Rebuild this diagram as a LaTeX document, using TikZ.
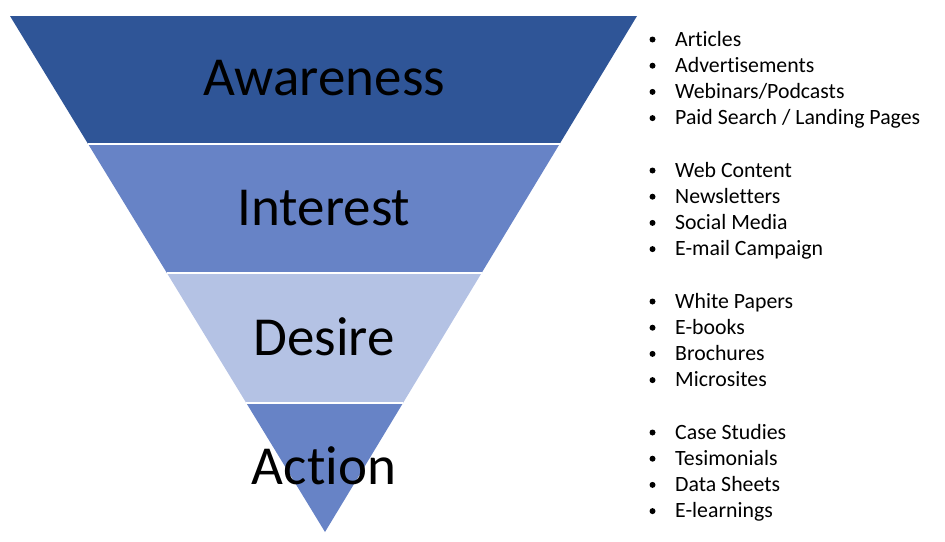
\documentclass[tikz,border=0pt]{standalone}
\usepackage{fontspec}
\setmainfont{Carlito}[Ligatures=CommonOff]
\definecolor{bandA}{HTML}{2F5597}
\definecolor{bandB}{HTML}{6783C6}
\definecolor{bandC}{HTML}{B4C2E4}
\begin{document}
\begin{tikzpicture}[x=1pt,y=-1pt,
  stage/.style={font=\fontsize{55}{60}\selectfont,anchor=base,inner sep=0pt},
  item/.style={font=\fontsize{21.8}{24}\selectfont,anchor=base west,inner sep=0pt},
  bullet/.style={circle,fill=black,inner sep=0pt,minimum size=6pt}]
\useasboundingbox (0,0) rectangle (945,541);
% funnel bands
\fill[bandA] (10,16) -- (637,16) -- (559.6,144) -- (88.1,144) -- cycle;
\fill[bandB] (88.1,144) -- (559.6,144) -- (481.6,273) -- (166.9,273) -- cycle;
\fill[bandC] (166.9,273) -- (481.6,273) -- (403,403) -- (246.3,403) -- cycle;
\fill[bandB] (246.3,403) -- (403,403) -- (325,532) -- cycle;
\draw[white,line width=1.6pt] (88.1,144) -- (559.6,144);
\draw[white,line width=1.6pt] (166.9,273) -- (481.6,273);
\draw[white,line width=1.6pt] (246.3,403) -- (403,403);
% stage labels
\node[stage] (aw) at (324,95.5) {Awareness};
\node[stage] (in) at (324,225) {Interest};
\node[stage] (de) at (324,355.5) {Desire};
\node[stage] (ac) at (324,484.5) {Action};
% lists
\foreach \k/\t [count=\i] in {0/Articles,1/Advertisements,2/{Webinars/Podcasts},3/{Paid Search / Landing Pages},
  5/Web Content,6/Newsletters,7/Social Media,8/E-mail Campaign,
  10/White Papers,11/E-books,12/Brochures,13/Microsites,
  15/Case Studies,16/Tesimonials,17/Data Sheets,18/E-learnings}{
  \node[bullet] (b\i) at (652.5,{39.5+26.2*\k}) {};
  \node[item] (t\i) at (675,{46+26.2*\k}) {\t};
}
\end{tikzpicture}
\end{document}
